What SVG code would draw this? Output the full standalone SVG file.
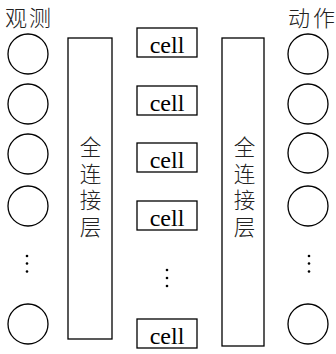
<svg xmlns="http://www.w3.org/2000/svg" width="336" height="354" viewBox="0 0 336 354">
<style>
.n{fill:none;stroke:#000;stroke-width:1.3}
.cjk{font-family:"Noto Sans CJK SC","Noto Sans",sans-serif;font-size:22px;font-weight:300;fill:#222}
.v{text-anchor:middle;font-size:21.5px}
.cell{font-family:"Liberation Serif",serif;font-size:24px;fill:#000;text-anchor:middle}
.dot{fill:#000}
</style>
<rect width="336" height="354" fill="#fff"/>
<g id="titles">
<text class="cjk" x="5" y="26" textLength="46">观测</text>
<text class="cjk" x="288" y="26" textLength="47">动作</text>
</g>
<g id="obs">
<circle class="n" cx="28" cy="54" r="20"/>
<circle class="n" cx="28" cy="104" r="20"/>
<circle class="n" cx="28" cy="154" r="20"/>
<circle class="n" cx="28" cy="206" r="20"/>
<circle class="dot" cx="27" cy="256" r="1.3"/>
<circle class="dot" cx="27" cy="263.5" r="1.3"/>
<circle class="dot" cx="27" cy="271.5" r="1.3"/>
<circle class="n" cx="28" cy="324" r="20"/>
</g>
<g id="fc1">
<rect class="n" x="68" y="38" width="44" height="301"/>
<text class="cjk v" x="90.5" y="155">全</text>
<text class="cjk v" x="90.5" y="181.5">连</text>
<text class="cjk v" x="90.5" y="208">接</text>
<text class="cjk v" x="90.5" y="234.5">层</text>
</g>
<g id="cells">
<rect class="n" x="137" y="28" width="60" height="29"/>
<text class="cell" x="167" y="53">cell</text>
<rect class="n" x="137" y="86" width="60" height="29"/>
<text class="cell" x="167" y="111">cell</text>
<rect class="n" x="137" y="143" width="60" height="29"/>
<text class="cell" x="167" y="168">cell</text>
<rect class="n" x="137" y="201" width="60" height="29"/>
<text class="cell" x="167" y="226">cell</text>
<circle class="dot" cx="167" cy="270" r="1.3"/>
<circle class="dot" cx="167" cy="278" r="1.3"/>
<circle class="dot" cx="167" cy="286" r="1.3"/>
<rect class="n" x="137" y="319" width="60" height="29"/>
<text class="cell" x="167" y="344">cell</text>
</g>
<g id="fc2">
<rect class="n" x="222" y="38" width="42" height="308"/>
<text class="cjk v" x="244.5" y="155">全</text>
<text class="cjk v" x="244.5" y="181.5">连</text>
<text class="cjk v" x="244.5" y="208">接</text>
<text class="cjk v" x="244.5" y="234.5">层</text>
</g>
<g id="act">
<circle class="n" cx="308" cy="54" r="20"/>
<circle class="n" cx="308" cy="104" r="20"/>
<circle class="n" cx="308" cy="153" r="20"/>
<circle class="n" cx="308" cy="206" r="20"/>
<circle class="dot" cx="309" cy="256" r="1.3"/>
<circle class="dot" cx="309" cy="263.5" r="1.3"/>
<circle class="dot" cx="309" cy="271.5" r="1.3"/>
<circle class="n" cx="308" cy="324" r="20"/>
</g>
<g id="connectors"/>
</svg>
